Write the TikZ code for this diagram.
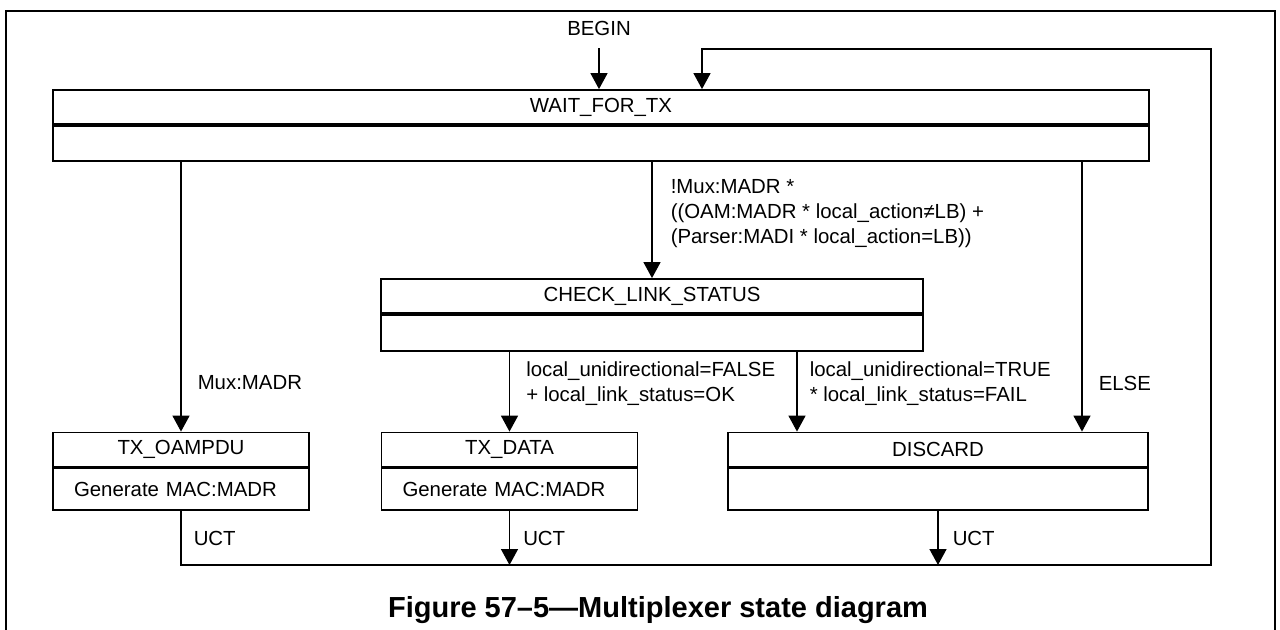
\documentclass[tikz,border=0pt]{standalone}
\usepackage{fontspec}
\setmainfont{Liberation Sans}
\usetikzlibrary{positioning}
\usetikzlibrary{arrows.meta}
\tikzset{statetitle/.style={%
        rectangle,
        draw=black,
        line width=0.9pt,
        minimum height=17pt,
        inner sep=0pt,
        font=\fontsize{10.2}{12.5}\selectfont
    }}
\tikzset{statebody/.style={%
        rectangle,
        draw=black,
        line width=0.9pt,
        inner xsep=10.5pt,
        inner ysep=0pt,
        align=left,
        font=\fontsize{10.2}{12.5}\selectfont
    }}
\tikzset{trans/.style={line width=0.75pt,-{Triangle[width=8.5pt,length=8pt]}}}
\tikzset{cond/.style={anchor=west,inner sep=0pt,align=left,font=\fontsize{10.2}{12.5}\selectfont}}

\begin{document}
\begin{tikzpicture}[x=0.5pt,y=-0.5pt]
    \useasboundingbox (0,0) rectangle (1280,630);
    \draw[line width=1.25pt] (6,700) -- (6,11) -- (1275,11) -- (1275,700);

    \node [statetitle, minimum width=548pt] (waitT) at (601,107) {WAIT\_FOR\_TX};
    \node [statebody, minimum width=548pt, minimum height=17.5pt] (wait) [below=0pt of waitT] {};
    \node [statetitle, minimum width=271pt] (checkT) at (652,296) {CHECK\_LINK\_STATUS};
    \node [statebody, minimum width=271pt, minimum height=18pt] (check) [below=0pt of checkT] {};
    \node [statetitle, minimum width=128pt] (oampduT) at (181,449.5) {TX\_OAMPDU};
    \node [statebody, text width=107pt, minimum height=21pt] (oampdu) [below=0pt of oampduT] {Generate MAC:MADR};
    \node [statetitle, minimum width=128pt] (dataT) at (509.5,449.5) {TX\_DATA};
    \node [statebody, text width=107pt, minimum height=21pt] (data) [below=0pt of dataT] {Generate MAC:MADR};
    \node [statetitle, minimum width=210pt] (discardT) at (938,449.5) {DISCARD};
    \node [statebody, minimum width=210pt, minimum height=21pt] (discard) [below=0pt of discardT] {};

    \node [font=\fontsize{10.2}{12.5}\selectfont] (begin) at (599,28) {BEGIN};
    \node [font=\bfseries\fontsize{14.5}{17}\selectfont] (caption) at (658,610) {Figure 57–5—Multiplexer state diagram};

    \coordinate (elseT) at ([xshift=72pt]discardT.north);
    \coordinate (failT) at ([xshift=-70.5pt]discardT.north);
    \coordinate (bus) at (1211,565);
    \coordinate (ret) at (1211,49);
    \coordinate (retin) at (702,49);

    \path[trans] (begin) edge[shorten <=3pt] (begin |- waitT.north);
    \path[trans] (oampduT.north |- wait.south) edge node[cond, pos=0.82, xshift=8pt] (lmux) {Mux:MADR} (oampduT.north);
    \path[trans] (checkT.north |- wait.south) edge node[cond, pos=0.45, xshift=9pt] (lmadr) {!Mux:MADR *\\((OAM:MADR * local\_action≠LB) +\\(Parser:MADI * local\_action=LB))} (checkT.north);
    \path[trans] (elseT |- wait.south) edge node[cond, pos=0.82, xshift=8pt] (lelse) {ELSE} (elseT);
    \path[trans] (check.south -| dataT.north) edge node[cond, pos=0.4, xshift=8pt] (lok) {local\_unidirectional=FALSE\\+ local\_link\_status=OK} (dataT.north);
    \path[trans] (check.south -| failT) edge node[cond, pos=0.4, xshift=6pt] (lfail) {local\_unidirectional=TRUE\\* local\_link\_status=FAIL} (failT);
    \path[trans] (data.south) edge node[cond, pos=0.5, xshift=6.5pt] (luct2) {UCT} (data.south |- bus);
    \path[trans] (discard.south) edge node[cond, pos=0.5, xshift=7pt] (luct3) {UCT} (discard.south |- bus);
    \draw[trans] (oampdu.south) -- node[cond, pos=0.5, xshift=6pt] (luct1) {UCT} (oampdu.south |- bus) -- (bus) -- (ret) -- (retin) -- (retin |- waitT.north);
\end{tikzpicture}
\end{document}
